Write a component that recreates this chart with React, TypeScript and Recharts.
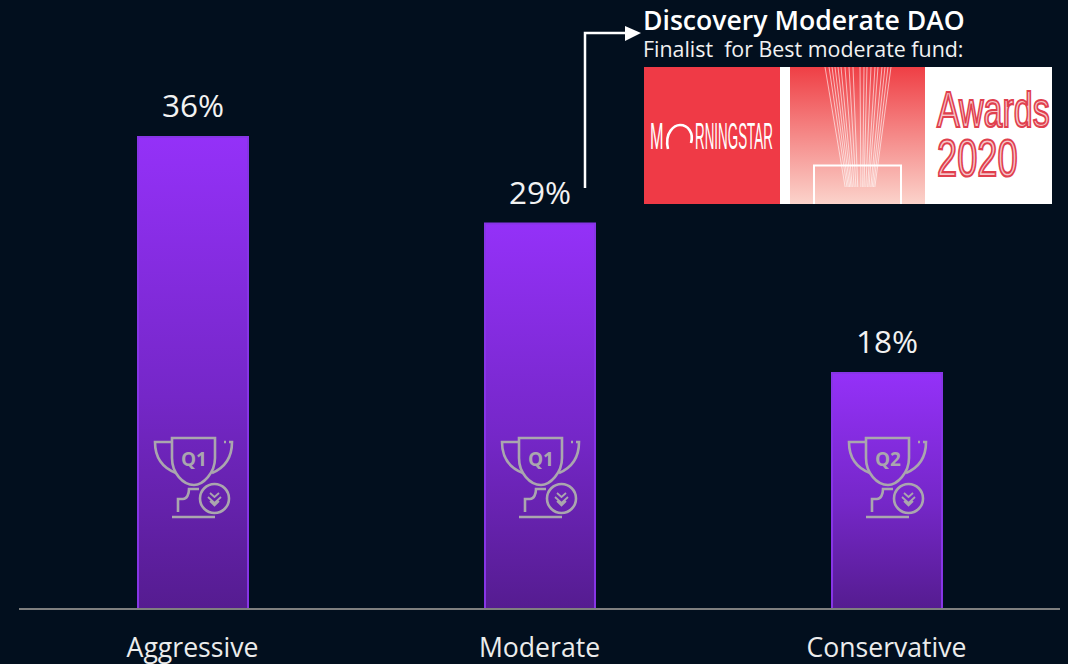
import { BarChart, Bar, XAxis, YAxis, LabelList } from 'recharts';

const categories = ['Aggressive', 'Moderate', 'Conservative'];
const returns = [36, 29.4, 18];
const quartiles = ['Q1', 'Q1', 'Q2'];

const chartData = categories.map((name, i) => ({ name, value: returns[i], quartile: quartiles[i] }));

const BG = '#020f1e';
const FONT = '"Open Sans", sans-serif';
const LOGO_FONT = '"Liberation Sans", sans-serif';
const ICON = '#aaa6ae';
const RED = '#ef3a46';
const rayOffsets = [-33, -29, -26, -23, -20, -17, -13, -9, -5, 2, 6, 9, 13, 17, 20, 24, 27, 30, 33];

// trophy sits a fixed distance above the bar's base
const Trophy = (props: any) => {
  const { x, y, width, height, index } = props;
  const cx = x + width / 2;
  const base = y + height - 91;
  return (
    <g transform={`translate(${cx},${base})`} fill="none" stroke={ICON} strokeWidth={2.6}>
      <path d="M-21,-80 H22 V-60 C22,-45 10,-33 1,-33 C-10,-33 -21,-45 -21,-60 Z" />
      <path d="M-21,-76 H-38 C-38,-60 -30,-50 -17,-45" />
      <path d="M31,-76 H33 M36,-76 H39 C39,-60 31,-50 19,-45" />
      <path d="M6,-29 H-4 C-4,-24 -6,-19 -10,-19 H-15 V-6" />
      <path d="M-21,-1 H22" />
      <circle cx={21.5} cy={-19.5} r={14.5} />
      <path d="M17,-25 L21.5,-21 L26,-25 M15,-21 L21.5,-15 L28,-21 M17,-17 L21.5,-12.5 L26,-17" strokeWidth={1.8} />
      <text
        x={1}
        y={-52}
        textAnchor="middle"
        fontFamily={FONT}
        fontSize={19}
        fontWeight={700}
        fill={ICON}
        stroke="none"
      >
        {quartiles[index]}
      </text>
    </g>
  );
};

const AwardCallout = () => (
  <svg
    width={1068}
    height={664}
    style={{ position: 'absolute', left: 0, top: 0, pointerEvents: 'none' }}
  >
    <defs>
      <linearGradient id="awardPanel" x1="0" y1="0" x2="0" y2="1">
        <stop offset="0%" stopColor="#ef3f45" />
        <stop offset="100%" stopColor="#fbd3cb" />
      </linearGradient>
    </defs>

    {/* arrow */}
    <path d="M585,188 V33 H626" fill="none" stroke="#fff" strokeWidth={2.5} />
    <path d="M625,26 L641,33 L625,41 Z" fill="#fff" />

    <text x={643} y={30} fontFamily={FONT} fontSize={26.6} fontWeight={600} fill="#fff">
      Discovery Moderate DAO
    </text>
    <text x={643} y={57} fontFamily={FONT} fontSize={21.4} fill="#f2f2f2" xmlSpace="preserve">
      Finalist  for Best moderate fund:
    </text>

    {/* award banner */}
    <rect x={644} y={67} width={408} height={137} fill="#fff" />
    <rect x={644} y={67} width={136} height={137} fill={RED} />
    <rect x={790} y={67} width={135} height={137} fill="url(#awardPanel)" />
    {rayOffsets.map((d) => (
      <line
        key={d}
        x1={858 + d}
        y1={67}
        x2={860 + d * 0.45}
        y2={187}
        stroke="#fff"
        strokeOpacity={0.6}
        strokeWidth={1}
      />
    ))}
    <path d="M814,204 V165.5 H901 V204" fill="none" stroke="#fff" strokeWidth={2} />

    <text
      transform="translate(650,149) scale(0.44,1)"
      fontFamily={LOGO_FONT}
      fontSize={37}
      fill="#fff"
    >
      M
    </text>
    <path d="M668,149 C664,132 675,125 680,125 C688,125 694,133 691,143" fill="none" stroke="#fff" strokeWidth={2.6} />
    <text
      transform="translate(695,149) scale(0.362,1)"
      fontFamily={LOGO_FONT}
      fontSize={37}
      fill="#fff"
    >
      RNINGSTAR
    </text>

    <text
      transform="translate(937,127) scale(0.68,1)"
      fontFamily={LOGO_FONT}
      fontSize={50}
      fill="#f7c6ca"
      stroke="#e0404e"
      strokeWidth={2.2}
    >
      Awards
    </text>
    <text
      transform="translate(937,176) scale(0.71,1)"
      fontFamily={LOGO_FONT}
      fontSize={51}
      fill="#f7c6ca"
      stroke="#e0404e"
      strokeWidth={2.2}
    >
      2020
    </text>
  </svg>
);

export default function App() {
  return (
    <div style={{ position: 'absolute', left: 0, top: 0, width: 1068, height: 664, background: BG, overflow: 'hidden' }}>
      <BarChart
        width={1068}
        height={664}
        data={chartData}
        margin={{ top: 0, right: 8, left: 19, bottom: 0 }}
      >
        <defs>
          <linearGradient id="barFill" x1="0" y1="0" x2="0" y2="1">
            <stop offset="0%" stopColor="#9431f8" />
            <stop offset="55%" stopColor="#7527c8" />
            <stop offset="100%" stopColor="#551c90" />
          </linearGradient>
        </defs>
        <XAxis
          dataKey="name"
          height={55}
          tickLine={false}
          axisLine={{ stroke: '#7f7f7f', strokeWidth: 2 }}
          tick={{ fill: '#ececec', fontSize: 26.6, fontFamily: FONT }}
          tickMargin={23}
          interval={0}
        />
        <YAxis hide domain={[0, 46.45]} />
        <Bar
          dataKey="value"
          barSize={110}
          fill="url(#barFill)"
          stroke="#8735e6"
          strokeWidth={2}
          isAnimationActive={false}
        >
          <LabelList
            dataKey="value"
            position="top"
            offset={20}
            formatter={(v: any) => `${Math.round(v)}%`}
            style={{ fill: '#f2f2f2', fontSize: 31.5, fontFamily: FONT }}
          />
          <LabelList dataKey="quartile" content={Trophy} />
        </Bar>
      </BarChart>
      <AwardCallout />
    </div>
  );
}
